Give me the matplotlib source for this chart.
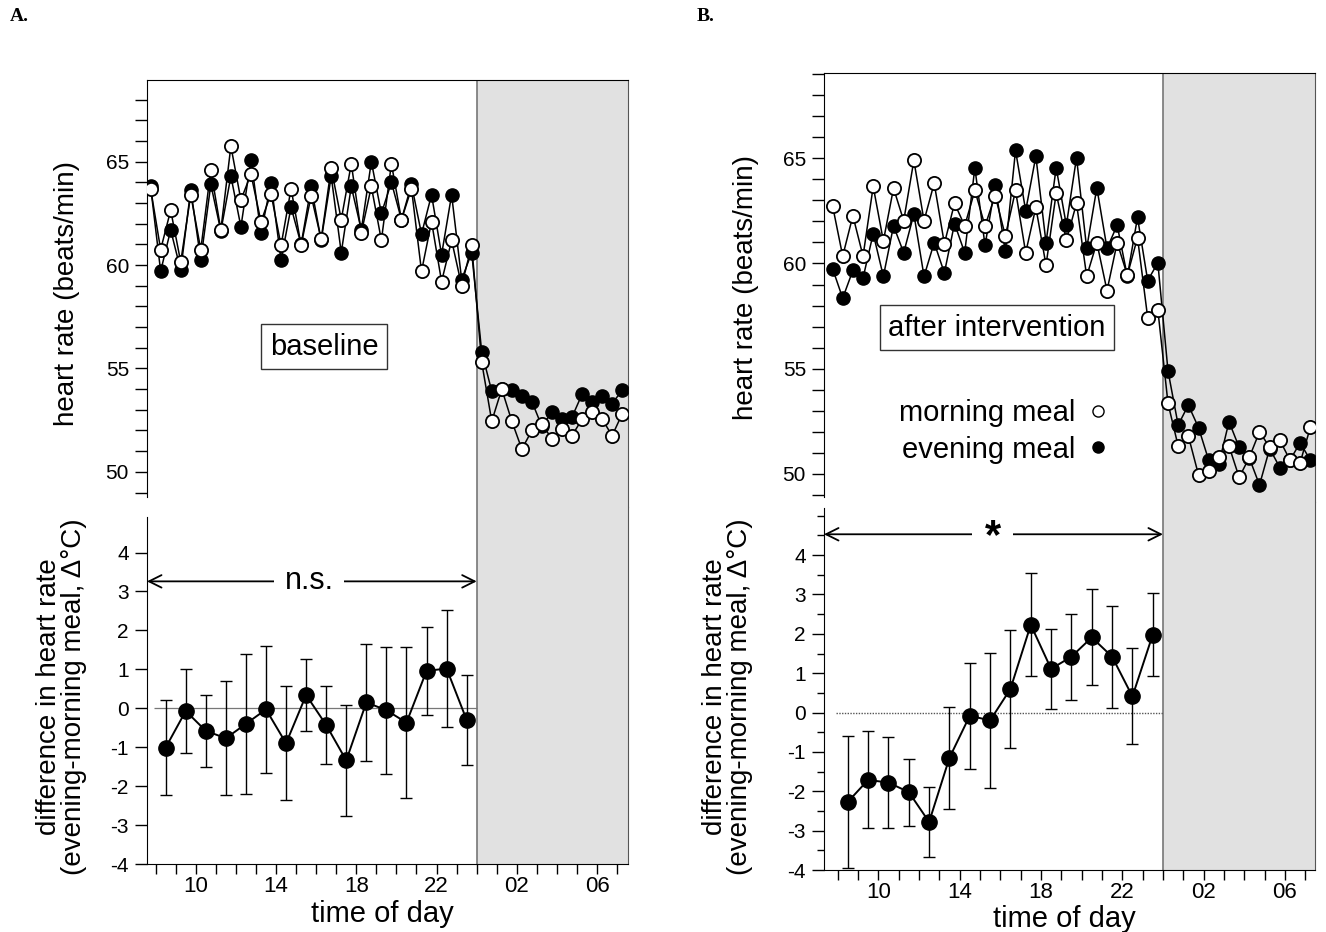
import numpy as np
import matplotlib.pyplot as plt
from matplotlib.lines import Line2D
from matplotlib.ticker import MultipleLocator

plt.rcParams['font.family'] = ['Liberation Sans', 'DejaVu Sans']
plt.rcParams['axes.unicode_minus'] = False

# half-hourly heart rate samples, 07:45 through 07:15 next morning
hr_time = np.arange(48) * 0.5 + 7.75
# hourly differences, 08:30 .. 23:30
diff_time = np.arange(16) + 8.5

a_morning = [63.7, 60.75, 62.65, 60.15, 63.4, 60.75, 64.6, 61.7, 65.75, 63.15, 64.4,
             62.1, 63.45, 60.95, 63.7, 60.95, 63.35, 61.25, 64.7, 62.2, 64.9, 61.55,
             63.8, 61.2, 64.9, 62.2, 63.7, 59.7, 62.1, 59.2, 61.2, 59.0, 60.95,
             55.3, 52.45, 54.0, 52.45, 51.1, 52.0, 52.3, 51.6, 52.05, 51.75, 52.55,
             52.9, 52.55, 51.75, 52.8]
a_evening = [63.8, 59.7, 61.7, 59.75, 63.65, 60.25, 63.9, 61.65, 64.3, 61.85, 65.1,
             61.55, 63.95, 60.25, 62.8, 61.0, 63.8, 61.2, 64.3, 60.6, 63.8, 61.7,
             65.0, 62.5, 64.0, 62.2, 63.9, 61.5, 63.4, 60.5, 63.4, 59.3, 60.6,
             55.8, 53.9, 54.0, 53.95, 53.65, 53.4, 52.2, 52.9, 52.55, 52.65, 53.75,
             53.4, 53.65, 53.3, 53.95]

b_morning = [62.75, 60.35, 62.27, 60.35, 63.66, 61.07, 63.58, 62.03, 64.9, 62.03, 63.82,
             60.94, 62.86, 61.79, 63.47, 61.79, 63.23, 61.31, 63.47, 60.51, 62.67, 59.92,
             63.34, 61.1, 62.86, 59.39, 60.99, 58.71, 60.99, 59.44, 61.23, 57.43, 57.8,
             53.35, 51.32, 51.8, 49.95, 50.15, 50.78, 51.32, 49.83, 50.78, 52.0, 51.26,
             51.6, 50.65, 50.53, 52.21]
b_evening = [59.76, 58.35, 59.67, 59.31, 61.42, 59.39, 61.79, 60.51, 62.35, 59.39, 60.99,
             59.55, 61.9, 60.51, 64.55, 60.86, 63.71, 60.59, 65.38, 62.51, 65.1, 60.99,
             64.55, 61.82, 65.03, 60.72, 63.6, 60.72, 61.82, 59.39, 62.19, 59.19, 60.03,
             54.89, 52.32, 53.27, 52.2, 50.65, 50.46, 52.48, 51.26, 50.75, 49.47, 51.2,
             50.3, 50.65, 51.48, 50.65]

a_diff = [-1.01, -0.07, -0.58, -0.77, -0.4, -0.03, -0.9, 0.34, -0.43, -1.34, 0.15,
          -0.05, -0.37, 0.96, 1.02, -0.3]
a_sem = [1.22, 1.09, 0.93, 1.46, 1.8, 1.64, 1.46, 0.93, 0.99, 1.43, 1.5, 1.63, 1.94,
         1.13, 1.51, 1.16]
b_diff = [-2.27, -1.71, -1.78, -2.02, -2.78, -1.15, -0.08, -0.2, 0.6, 2.23, 1.11,
          1.42, 1.91, 1.42, 0.41, 1.98]
b_sem = [1.67, 1.23, 1.16, 0.85, 0.9, 1.29, 1.35, 1.72, 1.51, 1.31, 1.02, 1.09, 1.22,
         1.3, 1.22, 1.06]

hour_ticks = [10, 14, 18, 22, 26, 30]
hour_labels = ['10', '14', '18', '22', '02', '06']
day_start, lights_off = 8, 24

NIGHT = '#e1e1e1'
FS = 20


def draw_panel(fig, rect_top, rect_bot, xlim, ylim_top, ylim_bot, spine_top, spine_bot,
               morning, evening, diff, sem):
    ax1 = fig.add_axes(rect_top)
    ax2 = fig.add_axes(rect_bot)
    for ax in (ax1, ax2):
        ax.set_xlim(*xlim)
        ax.axvspan(lights_off, xlim[1], color=NIGHT, lw=0, zorder=0)
        ax.axvline(lights_off, color='#777777', lw=1.2, zorder=1)
        ax.spines['right'].set_color('#555555')
        ax.tick_params(axis='y', direction='out', length=9, width=1, labelsize=15, pad=4)
    ax1.spines['bottom'].set_visible(False)
    ax2.spines['top'].set_visible(False)
    ax1.spines['left'].set_bounds(*spine_top)
    ax2.spines['left'].set_bounds(*spine_bot)

    # heart rate
    ax1.plot(hr_time, evening, '-o', color='k', lw=1.1, ms=9.5, mfc='k', mec='k', zorder=3)
    ax1.plot(hr_time, morning, '-o', color='k', lw=1.1, ms=9.5, mfc='white', mec='k',
             mew=1.3, zorder=4)
    ax1.set_ylim(*ylim_top)
    ax1.set_yticks([50, 55, 60, 65])
    ax1.yaxis.set_minor_locator(MultipleLocator(1))
    ax1.tick_params(axis='y', which='minor', direction='out', length=9, width=1)
    ax1.set_xticks([])
    ax1.set_ylabel('heart rate (beats/min)', fontsize=FS)

    # evening - morning difference
    ax2.errorbar(diff_time, diff, yerr=sem, fmt='-o', color='k', lw=1.4, ms=11,
                 elinewidth=1, capsize=4, capthick=1, zorder=3)
    ax2.set_ylim(*ylim_bot)
    ax2.set_yticks(range(-4, 5))
    ax2.set_xticks(hour_ticks)
    ax2.set_xticklabels(hour_labels)
    ax2.xaxis.set_minor_locator(MultipleLocator(1))
    ax2.tick_params(axis='x', which='both', direction='out', length=7, width=1,
                    labelsize=16, pad=2)
    ax2.set_ylabel('difference in heart rate\n(evening-morning meal, \u0394\u00b0C)',
                   fontsize=FS, linespacing=0.95)
    ax2.set_xlabel('time of day', fontsize=FS + 1, labelpad=-2)
    return ax1, ax2


fig = plt.figure(figsize=(13.26, 9.32), dpi=100)

W, H = 1326.0, 932.0


def rect(left, right, top, bottom):
    return [left / W, 1 - bottom / H, (right - left) / W, (bottom - top) / H]


box_style = dict(boxstyle='square,pad=0.3', fc='white', ec='#333333', lw=1)
arrow_style = dict(arrowstyle='<->,head_length=0.9,head_width=0.45',
                   color='k', lw=1.3, shrinkA=0, shrinkB=0)

# ---- panel A ----
a1, a2 = draw_panel(fig, rect(147, 628, 80, 507), rect(147, 628, 507, 864),
                    (7.57, 31.54), (48.3, 68.95), (-4.0, 5.17), (48.8, 68.95), (-4.0, 4.92),
                    a_morning, a_evening, a_diff, a_sem)
a2.hlines(0, day_start - 0.1, lights_off, color='#777777', lw=0.9, zorder=2)
a1.text(16.41, 56.06, 'baseline', fontsize=FS + 1, ha='center', va='center', bbox=box_style)
a2.annotate('', xy=(7.57, 3.26), xytext=(lights_off, 3.26), arrowprops=arrow_style)
a2.text(15.65, 3.26, 'n.s.', fontsize=FS + 2, ha='center', va='center',
        bbox=dict(boxstyle='square,pad=0.35', fc='white', ec='none'))
a1.yaxis.set_label_coords(-0.14, 0.5)
a2.yaxis.set_label_coords(-0.124, 0.47)
a2.xaxis.set_label_coords(0.49, -0.1)

# ---- panel B ----
b1, b2 = draw_panel(fig, rect(824, 1315, 72.7, 502), rect(824, 1315, 502, 870),
                    (7.33, 31.48), (48.66, 69.07), (-4.0, 5.35), (48.9, 69.07), (-4.0, 5.19),
                    b_morning, b_evening, b_diff, b_sem)
b2.hlines(0, day_start - 0.1, lights_off, color='#555555', lw=1, ls=(0, (1, 1)), zorder=2)
b2.yaxis.set_minor_locator(MultipleLocator(0.5))
b2.tick_params(axis='y', which='minor', direction='out', length=5, width=1)
b1.text(15.84, 56.95, 'after intervention', fontsize=FS + 1, ha='center', va='center',
        bbox=box_style)
b2.annotate('', xy=(7.33, 4.53), xytext=(lights_off, 4.53), arrowprops=arrow_style)
b2.text(15.63, 4.45, '*', fontsize=30, fontweight='bold', ha='center', va='center',
        bbox=dict(boxstyle='square,pad=0.3', fc='white', ec='none'))
handles = [Line2D([], [], ls='none', marker='o', ms=8, mfc='white', mec='k'),
           Line2D([], [], ls='none', marker='o', ms=8, mfc='k', mec='k')]
b1.legend(handles, ['morning meal', 'evening meal'], markerfirst=False, frameon=False,
          loc='center right', bbox_to_anchor=(0.618, 0.165), fontsize=FS + 1,
          handletextpad=0.3, labelspacing=0.3, handlelength=1.0, borderpad=0)
b1.yaxis.set_label_coords(-0.133, 0.5)
b2.yaxis.set_label_coords(-0.145, 0.47)
b2.xaxis.set_label_coords(0.49, -0.095)

fig.text(10 / W, 1 - 8 / H, 'A.', fontsize=14, fontweight='bold', va='top',
         family=['Liberation Serif', 'DejaVu Serif'])
fig.text(697 / W, 1 - 8 / H, 'B.', fontsize=14, fontweight='bold', va='top',
         family=['Liberation Serif', 'DejaVu Serif'])

fig.savefig('out.png', dpi=100)
